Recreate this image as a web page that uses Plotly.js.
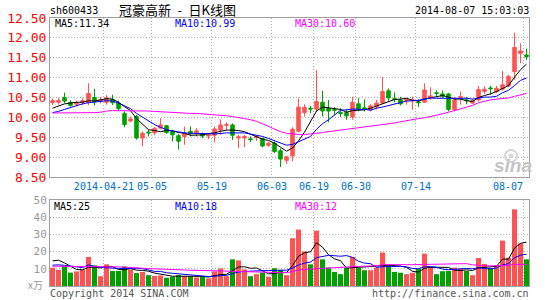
<!DOCTYPE html>
<html>
<head>
<meta charset="utf-8">
<script src="https://cdn.plot.ly/plotly-3.0.1.min.js"></script>
<style>
html,body{margin:0;padding:0;background:#fff;}
#chart{width:545px;height:300px;}
</style>
</head>
<body>
<div id="chart"></div>
<script>
// ---- data (trading-day index 0..79, 2014-04-08 .. 2014-08-07) ----
var dayIndex = [];
for (var k = 0; k < 80; k++) dayIndex.push(k);

var tickIdx  = [9, 17, 27, 37, 44, 51, 61, 79];
var tickText = ['2014-04-21', '05-05', '05-19', '06-03', '06-19', '06-30', '07-14', '08-07'];

var openP  = [10.37,10.38,10.50,10.38,10.33,10.38,10.37,10.50,10.40,10.38,
              10.45,10.36,10.10,9.91,10.02,9.48,9.63,9.61,9.73,9.79,
              9.64,9.54,9.52,9.65,9.59,9.58,9.53,9.55,9.68,9.80,
              9.81,9.48,9.48,9.46,9.49,9.47,9.30,9.35,9.16,8.92,
              9.03,9.65,10.12,10.23,10.21,10.38,10.23,10.20,10.12,10.12,
              10.01,10.34,10.24,10.19,10.26,10.36,10.67,10.47,10.44,10.42,
              10.41,10.39,10.38,10.49,10.62,10.59,10.59,10.19,10.49,10.44,
              10.36,10.44,10.65,10.74,10.65,10.71,10.79,11.15,11.61,11.57];
var highP  = [10.48,10.49,10.62,10.43,10.42,10.48,10.86,10.72,10.51,10.56,
              10.57,10.42,10.15,10.02,10.06,9.65,9.69,9.76,9.98,9.81,
              9.69,9.58,9.77,9.77,9.73,9.62,9.60,9.77,9.95,9.88,
              9.85,9.56,9.56,9.52,9.53,9.49,9.39,9.39,9.22,9.03,
              9.75,10.48,10.33,10.29,11.19,10.67,10.44,10.26,10.23,10.20,
              10.52,10.48,10.45,10.33,10.44,11.01,10.73,10.63,10.52,10.48,
              10.52,10.45,10.86,10.76,10.68,10.68,10.61,10.51,10.65,10.51,
              10.46,10.79,10.78,10.79,10.79,11.17,11.07,12.13,11.86,11.73];
var lowP   = [10.31,10.32,10.36,10.27,10.28,10.31,10.31,10.30,10.35,10.32,
              10.31,10.17,9.75,9.88,9.44,9.27,9.52,9.56,9.70,9.58,
              9.40,9.19,9.31,9.52,9.52,9.48,9.45,9.37,9.56,9.67,
              9.43,9.22,9.25,9.38,9.41,9.25,9.26,9.10,8.75,8.83,
              8.90,9.62,10.02,10.11,10.15,10.02,9.88,10.05,10.01,9.94,
              9.94,10.15,10.15,10.15,10.20,10.34,10.40,10.38,10.30,10.32,
              10.19,10.26,10.36,10.44,10.52,10.49,10.15,10.15,10.32,10.33,
              10.33,10.40,10.59,10.57,10.61,10.68,10.76,10.95,11.36,11.44];
var closeP = [10.42,10.43,10.41,10.30,10.36,10.42,10.60,10.39,10.44,10.49,
              10.37,10.22,9.82,9.96,9.48,9.60,9.61,9.72,9.81,9.62,
              9.56,9.40,9.60,9.59,9.66,9.53,9.56,9.71,9.81,9.82,
              9.55,9.51,9.52,9.44,9.52,9.28,9.35,9.14,8.95,9.01,
              9.70,10.26,10.25,10.21,10.40,10.16,10.16,10.18,10.10,10.04,
              10.38,10.21,10.22,10.29,10.36,10.65,10.49,10.45,10.34,10.45,
              10.44,10.37,10.69,10.54,10.60,10.53,10.20,10.44,10.52,10.42,
              10.42,10.70,10.71,10.72,10.73,10.82,11.03,11.76,11.67,11.53];

var ma5P  = [10.23,10.29,10.34,10.36,10.38,10.38,10.42,10.41,10.44,10.47,
             10.46,10.38,10.27,10.17,9.97,9.82,9.69,9.67,9.64,9.67,
             9.66,9.62,9.60,9.55,9.56,9.56,9.59,9.61,9.65,9.68,
             9.68,9.67,9.64,9.57,9.50,9.45,9.42,9.35,9.25,9.15,
             9.23,9.41,9.63,9.88,10.16,10.26,10.24,10.22,10.20,10.13,
             10.17,10.18,10.19,10.23,10.29,10.34,10.40,10.45,10.46,10.48,
             10.43,10.41,10.46,10.49,10.53,10.55,10.51,10.46,10.46,10.42,
             10.40,10.50,10.55,10.59,10.65,10.73,10.80,11.01,11.20,11.34];
var ma10P = [10.12,10.15,10.20,10.25,10.30,10.34,10.37,10.38,10.40,10.42,
             10.41,10.36,10.30,10.22,10.10,10.00,9.90,9.82,9.75,9.69,
             9.66,9.63,9.61,9.60,9.60,9.59,9.59,9.58,9.60,9.61,
             9.61,9.61,9.61,9.58,9.55,9.52,9.47,9.41,9.35,9.30,
             9.32,9.38,9.44,9.52,9.70,9.84,9.94,10.05,10.18,10.19,
             10.21,10.20,10.20,10.18,10.23,10.26,10.30,10.34,10.37,10.41,
             10.42,10.43,10.46,10.49,10.48,10.48,10.48,10.48,10.49,10.48,
             10.46,10.48,10.51,10.51,10.53,10.62,10.68,10.80,10.93,10.99];
var ma30P = [10.11,10.11,10.11,10.12,10.12,10.12,10.12,10.12,10.13,10.16,
             10.17,10.17,10.17,10.17,10.17,10.17,10.16,10.15,10.14,10.13,
             10.12,10.11,10.10,10.10,10.10,10.09,10.08,10.07,10.05,10.04,
             10.02,10.00,9.97,9.94,9.90,9.84,9.77,9.70,9.64,9.60,
             9.58,9.57,9.57,9.58,9.60,9.62,9.64,9.66,9.68,9.69,
             9.71,9.73,9.75,9.77,9.79,9.81,9.84,9.86,9.89,9.92,
             9.95,9.97,9.99,10.02,10.05,10.09,10.13,10.17,10.22,10.26,
             10.30,10.37,10.41,10.44,10.46,10.47,10.49,10.53,10.57,10.60];

var volume = [10.6,9.4,11.6,7.8,8.5,9.5,16.9,12.0,5.7,12.6,
              8.7,8.8,11.3,9.6,7.5,8.2,6.3,5.9,6.1,4.8,
              5.4,6.3,5.7,5.7,5.0,5.4,4.4,8.5,10.2,5.7,
              15.5,14.9,9.6,5.7,6.9,7.8,5.4,10.3,9.4,6.3,
              27.8,32.8,20.1,12.6,32.2,15.5,10.7,8.2,6.9,10.5,
              16.9,10.5,9.2,9.2,10.5,19.5,12.1,8.2,7.7,6.9,
              7.7,10.2,18.8,11.1,6.9,8.6,8.8,10.7,10.2,8.8,
              6.3,16.3,12.8,10.5,11.8,26.4,16.5,44.6,24.7,15.5];
var vma5  = [14.6,15.0,13.4,11.5,9.6,9.4,10.9,10.9,10.5,11.3,
             11.2,9.6,9.4,10.2,9.2,9.1,8.6,7.5,6.8,6.3,
             5.7,5.7,5.7,5.6,5.6,5.6,5.2,5.8,6.7,6.8,
             8.9,11.0,11.2,10.3,10.5,9.0,7.1,7.2,8.0,7.8,
             11.8,17.3,19.3,19.9,25.1,22.6,18.2,15.8,14.7,10.4,
             10.6,10.6,10.8,11.3,11.3,11.8,12.1,11.9,11.6,10.9,
             8.5,8.1,10.3,10.9,10.9,11.1,10.8,9.2,9.0,9.4,
             9.0,10.5,10.9,10.9,11.5,15.6,15.6,22.0,24.8,25.5];
var vma10 = [12.1,12.3,12.0,11.6,11.0,10.7,12.3,11.3,10.8,10.5,
             10.3,10.2,10.2,10.4,10.3,10.1,9.1,8.5,8.5,7.7,
             7.4,7.1,6.6,6.2,5.9,5.7,5.5,5.7,6.1,6.2,
             7.2,8.1,8.5,8.5,8.7,8.9,9.0,9.2,9.1,9.2,
             10.4,12.2,13.3,13.9,16.5,17.2,17.8,17.6,17.3,17.7,
             16.6,14.4,13.3,13.0,10.8,11.2,11.4,11.4,11.4,11.1,
             10.2,10.1,11.1,11.3,10.9,9.8,9.5,9.7,10.0,10.2,
             10.0,10.7,10.1,10.0,10.5,12.3,13.0,16.4,17.9,18.5];
var vma30 = [11.5,11.5,11.4,11.3,11.2,11.2,11.3,11.3,11.2,11.2,
             11.1,11.1,11.0,10.9,10.6,10.3,10.1,9.9,9.8,9.6,
             9.5,9.4,9.3,9.2,9.1,9.0,8.9,8.8,8.7,8.5,
             8.5,8.4,8.3,8.2,8.1,8.0,7.9,7.8,7.8,7.7,
             8.4,9.3,9.7,9.9,10.4,10.6,10.8,10.9,10.9,11.0,
             11.3,11.4,11.5,11.6,11.8,12.4,12.5,12.5,12.4,12.4,
             12.4,12.5,12.6,12.6,12.7,12.8,12.8,12.9,13.0,13.0,
             12.3,11.8,11.7,11.7,11.7,12.0,12.1,12.6,12.6,12.4];

// ---- styles ----
var RED = '#ff5353', GREEN = '#00a000';
var MONO = 'DejaVu Sans Mono';
var GRID = '#b0b0b0', FRAME = '#a0a0a0';

var volColors = closeP.map(function (c, i) { return c >= openP[i] ? RED : GREEN; });
var tickPos = tickIdx.map(function (i) { return i - 0.42; });
var last = dayIndex.length - 1;
var nT = tickText.length - 1;
// the last date label sits right-aligned against the frame, drawn as an annotation
var tickShown = tickText.map(function (t, i) { return i === nT ? '' : t; });

var traces = [
  { type: 'candlestick', x: dayIndex, open: openP, high: highP, low: lowP, close: closeP,
    xaxis: 'x', yaxis: 'y', whiskerwidth: 0, hoverinfo: 'skip',
    increasing: { line: { color: RED, width: 1 }, fillcolor: RED },
    decreasing: { line: { color: GREEN, width: 1 }, fillcolor: GREEN } },
  { type: 'scatter', mode: 'lines', x: dayIndex, y: ma5P, xaxis: 'x', yaxis: 'y', line: { color: '#000000', width: 1 } },
  { type: 'scatter', mode: 'lines', x: dayIndex, y: ma10P, xaxis: 'x', yaxis: 'y', line: { color: '#0000ff', width: 1 } },
  { type: 'scatter', mode: 'lines', x: dayIndex, y: ma30P, xaxis: 'x', yaxis: 'y', line: { color: '#ff00ff', width: 1 } },
  { type: 'bar', x: dayIndex, y: volume, xaxis: 'x2', yaxis: 'y2', marker: { color: volColors, line: { width: 0 } } },
  { type: 'scatter', mode: 'lines', x: dayIndex, y: vma5, xaxis: 'x2', yaxis: 'y2', line: { color: '#000000', width: 1 } },
  { type: 'scatter', mode: 'lines', x: dayIndex, y: vma10, xaxis: 'x2', yaxis: 'y2', line: { color: '#0000ff', width: 1 } },
  { type: 'scatter', mode: 'lines', x: dayIndex, y: vma30, xaxis: 'x2', yaxis: 'y2', line: { color: '#ff00ff', width: 1 } }
];

function ann(text, xp, yp, anchor, color, size, family) {
  return { text: text, xref: 'paper', yref: 'paper',
           x: (xp - 50) / 479, y: (286 - yp) / 268,
           xanchor: anchor, yanchor: 'middle', showarrow: false,
           font: { family: family || MONO, size: size || 10, color: color || '#000' } };
}
function px(xp) { return (xp - 50) / 479; }
function py(yp) { return (286 - yp) / 268; }

var annotations = [
  ann('sh600433', 48, 11, 'left', '#000'),
  ann('冠豪高新\u2002-\u2002日K线图', 177, 10, 'center', '#000', 13, 'Noto Sans CJK SC'),
  ann('2014-08-07 15:03:03', 531, 11, 'right', '#000'),
  ann('MA5:' + ma5P[last].toFixed(2), 53, 23, 'left', '#000'),
  ann('MA10:' + ma10P[last].toFixed(2), 173, 23, 'left', '#0000ff'),
  ann('MA30:' + ma30P[last].toFixed(2), 293, 23, 'left', '#ff00ff'),
  ann('MA5:' + Math.floor(vma5[last]), 52, 206, 'left', '#000'),
  ann('MA10:' + Math.floor(vma10[last]), 173, 206, 'left', '#0000ff'),
  ann('MA30:' + Math.floor(vma30[last]), 293, 206, 'left', '#ff00ff'),
  ann(tickText[nT], 525, 186, 'right', '#0070c8'),
  ann('x万', 45, 284, 'right', '#999999', 10, 'Noto Sans CJK SC'),
  ann('Copyright 2014 SINA.COM', 48, 293, 'left', '#555555'),
  ann('http://finance.sina.com.cn', 531, 293, 'right', '#555555'),
  ann('<b><i>sina</i></b>', 513, 165, 'center', '#c4c4c4', 19, 'Liberation Sans')
];

// sina eye watermark (shape, not text)
var shapes = [
  { type: 'circle', xref: 'paper', yref: 'paper', x0: px(505), x1: px(517), y0: py(162), y1: py(150),
    line: { color: '#d6d6d6', width: 2 }, fillcolor: 'rgba(0,0,0,0)', layer: 'above' },
  { type: 'circle', xref: 'paper', yref: 'paper', x0: px(509), x1: px(513), y0: py(158), y1: py(154),
    line: { color: '#d6d6d6', width: 1 }, fillcolor: '#d6d6d6', layer: 'above' }
];

var axX = {
  range: [-0.4167, 79.4167], tickmode: 'array', tickvals: tickPos, ticktext: tickShown,
  showgrid: true, gridcolor: GRID, griddash: '1px,2px', gridwidth: 1,
  showline: true, mirror: true, linecolor: FRAME, linewidth: 1, zeroline: false,
  ticks: '', fixedrange: true, rangeslider: { visible: false },
  tickfont: { family: MONO, size: 10, color: '#0070c8' }, tickangle: 0
};
var axX2 = JSON.parse(JSON.stringify(axX));
axX2.showticklabels = false;
axX2.matches = 'x';
axX.anchor = 'y';
axX2.anchor = 'y2';

var layout = {
  width: 545, height: 300,
  margin: { l: 50, r: 16, t: 18, b: 14, pad: 0 },
  paper_bgcolor: '#ffffff', plot_bgcolor: '#ffffff',
  showlegend: false, boxgap: 0.17, bargap: 0.17,
  xaxis: axX,
  xaxis2: axX2,
  yaxis: {
    domain: [0.4067, 1], range: [8.5, 12.5], tickmode: 'array',
    tickvals: [8.5, 9, 9.5, 10, 10.5, 11, 11.5, 12, 12.5], tickformat: '.2f',
    showgrid: true, gridcolor: GRID, griddash: '1px,2px', gridwidth: 1,
    showline: true, mirror: true, linecolor: FRAME, linewidth: 1, zeroline: false,
    ticks: '', fixedrange: true, anchor: 'x',
    tickfont: { family: MONO, size: 13, color: '#ff0000' }
  },
  yaxis2: {
    domain: [0, 0.3209], range: [0, 50], tickmode: 'array',
    tickvals: [10, 20, 30, 40, 50],
    showgrid: true, gridcolor: GRID, griddash: '1px,2px', gridwidth: 1,
    showline: true, mirror: true, linecolor: FRAME, linewidth: 1, zeroline: false,
    ticks: '', fixedrange: true, anchor: 'x2',
    tickfont: { family: MONO, size: 11, color: '#999999' }
  },
  annotations: annotations,
  shapes: shapes
};

Plotly.newPlot('chart', traces, layout, { staticPlot: true, displayModeBar: false });
</script>
</body>
</html>
